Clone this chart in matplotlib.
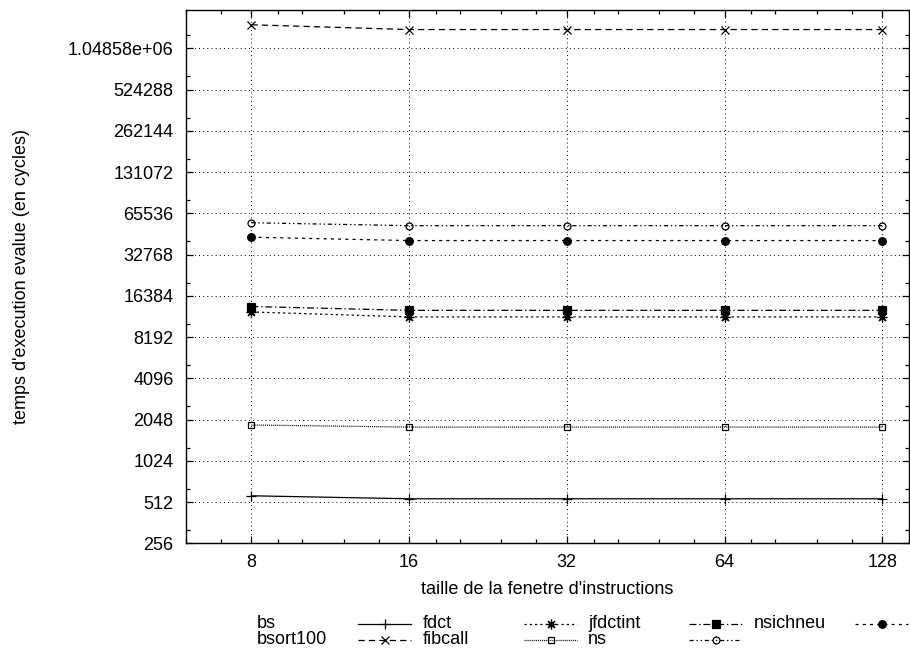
import matplotlib
matplotlib.use("Agg")
import matplotlib.pyplot as plt
from matplotlib.lines import Line2D
from matplotlib.ticker import FixedLocator, NullFormatter

# ==========================================
# donnees
# ==========================================
window_sizes = [8, 16, 32, 64, 128]

bs = [569, 541, 541, 541, 541]
bsort100 = [1560000, 1440000, 1440000, 1440000, 1440000]
fdct = [12500, 11500, 11500, 11500, 11500]
fibcall = [1870, 1805, 1805, 1805, 1805]
jfdctint = [13700, 12840, 12840, 12840, 12840]
ns = [56000, 53300, 53300, 53300, 53300]
nsichneu = [43900, 41500, 41500, 41500, 41500]

benchmarks = ["bs", "bsort100", "fdct", "fibcall", "jfdctint", "ns", "nsichneu"]
series = [bs, bsort100, fdct, fibcall, jfdctint, ns, nsichneu]

y_ticks = [256 * 2 ** k for k in range(13)]
y_tick_labels = [str(v) for v in y_ticks[:-1]] + ["1.04858e+06"]
x_minor = [k * f for k in [4, 8, 16, 32, 64, 128] for f in (1.125, 1.25, 1.5, 1.75)]
y_minor = [1.25 * v for v in y_ticks]

# style gnuplot : (dashes, marker, taille, remplissage)
styles = {
    "bs":       dict(dashes=(None, None), marker="+", ms=7, mfc="black"),
    "bsort100": dict(dashes=(4.5, 3.0), marker="x", ms=6, mfc="black"),
    "fdct":     dict(dashes=(1.6, 2.2), marker=(8, 2, 0), ms=7, mfc="black"),
    "fibcall":  dict(dashes=(0.7, 0.7), marker="s", ms=5, mfc="none"),
    "jfdctint": dict(dashes=(5.0, 2.0, 1.0, 2.0), marker="s", ms=5.5, mfc="black"),
    "ns":       dict(dashes=(3.0, 2.0, 1.0, 2.0, 1.0, 2.0), marker="o", ms=5, mfc="none"),
    "nsichneu": dict(dashes=(2.2, 3.0), marker="o", ms=5.5, mfc="black"),
}

plt.rcParams["font.family"] = ["Liberation Sans", "DejaVu Sans"]
plt.rcParams["font.size"] = 13
plt.rcParams["lines.scale_dashes"] = False

W, H = 910, 649
fig = plt.figure(figsize=(W / 100, H / 100), dpi=100)
ax = fig.add_axes([186 / W, 1 - 543.3 / H, (909 - 186) / W, (543.3 - 10) / H])

def draw_kw(name):
    st = styles[name]
    kw = dict(color="black", lw=0.9, marker=st["marker"], ms=st["ms"],
              mfc=st["mfc"], mec="black", mew=0.9)
    if st["dashes"][0] is None:
        kw["linestyle"] = "-"
    else:
        kw["linestyle"] = (0, st["dashes"])
    return kw

for name, vals in zip(benchmarks, series):
    ax.plot(window_sizes, vals, label=name, **draw_kw(name))

ax.set_xscale("log", base=2)
ax.set_yscale("log", base=2)
ax.set_xlim(6, 144)
ax.set_ylim(256, 2.0e6)

ax.xaxis.set_major_locator(FixedLocator(window_sizes))
ax.set_xticklabels([str(v) for v in window_sizes])
ax.xaxis.set_minor_locator(FixedLocator(x_minor))
ax.xaxis.set_minor_formatter(NullFormatter())
ax.yaxis.set_major_locator(FixedLocator(y_ticks))
ax.set_yticklabels(y_tick_labels)
ax.yaxis.set_minor_locator(FixedLocator(y_minor))
ax.yaxis.set_minor_formatter(NullFormatter())

ax.tick_params(which="both", direction="in", top=True, right=True, width=0.9)
ax.tick_params(which="major", length=5)
ax.tick_params(which="minor", length=3)
ax.tick_params(axis="y", which="major", pad=9)
ax.tick_params(axis="x", which="major", pad=8)

ax.grid(True, which="major", color="black", lw=0.7, linestyle=(0, (0.7, 2.3)))
ax.set_axisbelow(True)
for sp in ax.spines.values():
    sp.set_linewidth(1.0)

ax.set_xlabel("taille de la fenetre d'instructions", va="center")
ax.xaxis.set_label_coords(0.5, (543.3 - 590) / 533.3)
ax.set_ylabel("temps d'execution evalue (en cycles)", va="center")
ax.yaxis.set_label_coords((22 - 186) / 723, 0.5)

# legende sous le graphe, facon gnuplot (libelle puis echantillon)
col_x = [257, 423, 588, 754]
row_y = [624, 640]
for i, name in enumerate(benchmarks):
    c, r = divmod(i, 2)
    x0, y0 = col_x[c], row_y[r]
    fig.text(x0 / W, 1 - y0 / H, name, ha="left", va="center")
    xs = [(x0 + 101) / W, (x0 + 127.5) / W, (x0 + 154) / W]
    ys = [1 - y0 / H] * 3
    fig.add_artist(Line2D(xs, ys, transform=fig.transFigure, markevery=[1], **draw_kw(name)))

fig.savefig("out.png", dpi=100)
